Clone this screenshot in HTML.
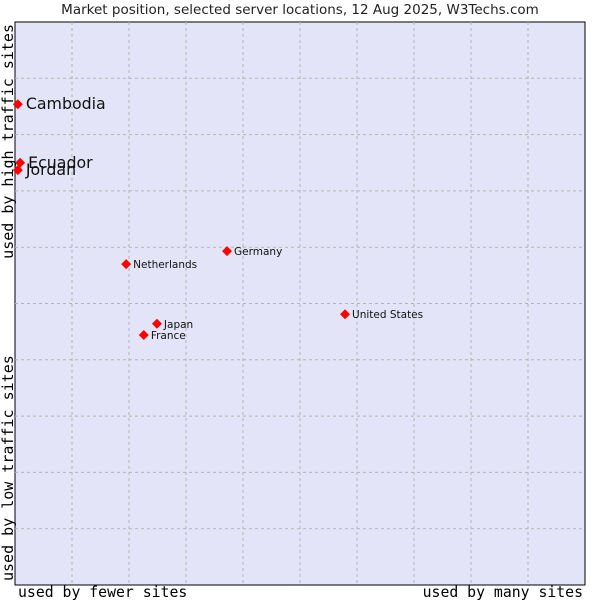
<!DOCTYPE html>
<html><head><meta charset="utf-8"><style>
body{margin:0;background:#fff;}
svg{display:block;font-family:"DejaVu Sans","Liberation Sans",sans-serif;}
</style></head><body>
<svg id="chart" width="600" height="600">
<text x="300" y="14" text-anchor="middle" font-size="13.5" fill="#222">Market position, selected server locations, 12 Aug 2025, W3Techs.com</text>
<rect x="15" y="22" width="570" height="563" fill="#e4e4f8" stroke="#000" stroke-width="1"/>
<g id="grid"></g>
<g id="marks"></g>
<text x="18" y="597" font-family="DejaVu Sans Mono,Liberation Mono,monospace" font-size="14.8" fill="#000">used by fewer sites</text>
<text x="583" y="597" text-anchor="end" font-family="DejaVu Sans Mono,Liberation Mono,monospace" font-size="14.8" fill="#000">used by many sites</text>
<text transform="translate(13,581) rotate(-90)" font-family="DejaVu Sans Mono,Liberation Mono,monospace" font-size="15" fill="#000">used by low traffic sites</text>
<text transform="translate(13,24) rotate(-90)" text-anchor="end" font-family="DejaVu Sans Mono,Liberation Mono,monospace" font-size="15" fill="#000">used by high traffic sites</text>
</svg>
<script>
const names = ["Cambodia","Ecuador","Jordan","Netherlands","Germany","United States","Japan","France"];
const xVals = [0.5,0.9,0.5,19.5,37.2,57.9,24.9,22.6];
const yVals = [85.4,75.0,73.7,57.0,59.3,48.1,46.4,44.4];
const bigLabel = [true,true,true,false,false,false,false,false];
const gridTicks = [10,20,30,40,50,60,70,80,90];
const NS="http://www.w3.org/2000/svg";
const X0=15,X1=585,Y0=585,Y1=22;
function sx(v){return X0+v*(X1-X0)/100;}
function sy(v){return Y0-v*(Y0-Y1)/100;}
const grid=document.getElementById('grid'), marks=document.getElementById('marks');
gridTicks.forEach(t=>{
  let l=document.createElementNS(NS,'line');
  l.setAttribute('x1',sx(t));l.setAttribute('x2',sx(t));l.setAttribute('y1',Y1);l.setAttribute('y2',Y0);
  l.setAttribute('stroke','#b4b4b4');l.setAttribute('stroke-dasharray','3,3');
  
  
  grid.appendChild(l);
  let h=document.createElementNS(NS,'line');
  h.setAttribute('x1',X0);h.setAttribute('x2',X1);h.setAttribute('y1',sy(t));h.setAttribute('y2',sy(t));
  h.setAttribute('stroke','#b4b4b4');h.setAttribute('stroke-dasharray','3,3');
  
  
  grid.appendChild(h);
});
names.forEach((n,i)=>{
  const x=sx(xVals[i]),y=sy(yVals[i]);
  let p=document.createElementNS(NS,'polygon');
  p.setAttribute('points',`${x},${y-5} ${x+5},${y} ${x},${y+5} ${x-5},${y}`);
  p.setAttribute('fill','#ff0000');
  
  
  marks.appendChild(p);
  let t=document.createElementNS(NS,'text');
  const big=bigLabel[i];
  t.setAttribute('x',x+(big?8:7));t.setAttribute('y',y+(big?5:4));
  t.setAttribute('font-size',big?15.8:10.5);t.setAttribute('fill','#111');
  t.textContent=n;
  
  
  marks.appendChild(t);
});
</script>
</body></html>
